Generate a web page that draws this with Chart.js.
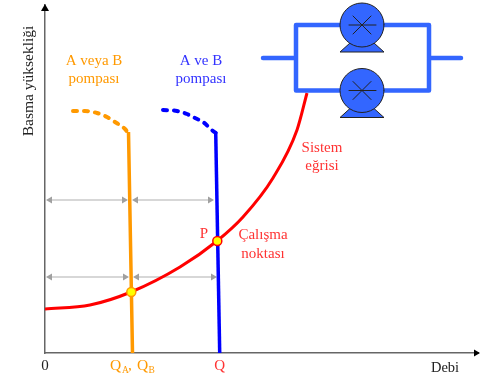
<!DOCTYPE html>
<html>
<head>
<meta charset="utf-8">
<style>
  html, body { margin: 0; padding: 0; background: #fff; }
  #wrap { width: 480px; height: 384px; }
</style>
<script src="https://cdn.jsdelivr.net/npm/chart.js@4/dist/chart.umd.min.js"></script>
</head>
<body>
<div id="wrap"><canvas id="pumpChart"></canvas></div>
<script>
// flow / head, arbitrary units
const systemFlow = [0, 45, 86, 135, 172, 198, 228, 252, 262];
const systemHead = [44, 48, 61, 86, 112, 136, 175, 223, 260];

const singleFlow = [87.5, 83.5];
const singleHead = [0, 221];
const singleDashFlow = [28, 40, 52, 62, 70, 80, 83];
const singleDashHead = [242, 242, 240, 236, 231, 224, 220];

const parallelFlow = [174.7, 170.7];
const parallelHead = [0, 221];
const parallelDashFlow = [118, 132, 142, 150, 158, 168, 171];
const parallelDashHead = [243, 242, 239, 235, 231, 222, 220];

const upperArrowHead = 153;
const lowerArrowHead = 76;
const upperArrowFlow = [[5, 79], [91, 165]];
const lowerArrowFlow = [[5, 80], [92, 168]];

const operatingFlow = [86.3, 172.3];
const operatingHead = [61, 112];

const xTicks = [0, 87.5, 174.7];
const xTickLabels = ['0', '', 'Q'];
const xMax = 433;
const yMax = 348;

const ORANGE = '#ff9900';
const BLUE = '#0000ff';
const RED = '#ff0000';
const TXT_RED = '#ff3333';
const GREY = '#b0b0b0';
const AXIS = '#666666';
const PIPE = '#3366ff';
const SERIF = '"Liberation Serif", serif';

function zip(xs, ys) {
  return xs.map((x, i) => ({ x: x, y: ys[i] }));
}

function lineSet(xs, ys, color, width, dash) {
  return {
    data: zip(xs, ys),
    borderColor: color,
    borderWidth: width,
    borderDash: dash || [],
    borderCapStyle: dash ? 'round' : 'butt',
    cubicInterpolationMode: 'monotone',
    pointRadius: 0
  };
}

function arrowSet(xs, head) {
  return {
    data: xs.map(x => ({ x: x, y: head })),
    borderColor: GREY,
    borderWidth: 1.2,
    pointStyle: 'triangle',
    pointRadius: 4,
    pointRotation: [-90, 90],
    pointBackgroundColor: '#a0a0a0',
    pointBorderWidth: 0
  };
}

// first dataset ends up on top
const datasets = [
  {
    data: zip(operatingFlow, operatingHead),
    showLine: false,
    pointRadius: 4.5,
    pointBorderWidth: 1.5,
    pointBackgroundColor: '#ffff00',
    pointBorderColor: [ORANGE, RED]
  },
  lineSet(systemFlow, systemHead, RED, 3),
  lineSet(parallelFlow, parallelHead, BLUE, 3.5),
  lineSet(parallelDashFlow, parallelDashHead, BLUE, 4, [4, 7]),
  lineSet(singleFlow, singleHead, ORANGE, 3.5),
  lineSet(singleDashFlow, singleDashHead, ORANGE, 4, [4, 7]),
  arrowSet(upperArrowFlow[0], upperArrowHead),
  arrowSet(upperArrowFlow[1], upperArrowHead),
  arrowSet(lowerArrowFlow[0], lowerArrowHead),
  arrowSet(lowerArrowFlow[1], lowerArrowHead)
];

// pump sketch, axis arrows and text notes
const notes = {
  id: 'notes',
  afterDraw(chart) {
    const ctx = chart.ctx;
    const a = chart.chartArea;
    const x = chart.scales.x;

    ctx.save();
    ctx.fillStyle = '#000';
    ctx.beginPath();
    ctx.moveTo(a.right + 2, a.bottom);
    ctx.lineTo(a.right - 4, a.bottom - 3.5);
    ctx.lineTo(a.right - 4, a.bottom + 3.5);
    ctx.fill();
    ctx.beginPath();
    ctx.moveTo(a.left, 4);
    ctx.lineTo(a.left - 4, 11);
    ctx.lineTo(a.left + 4, 11);
    ctx.fill();

    ctx.strokeStyle = PIPE;
    ctx.lineWidth = 4.5;
    ctx.lineJoin = 'round';
    ctx.lineCap = 'round';
    ctx.beginPath();
    ctx.moveTo(263, 58); ctx.lineTo(296, 58);
    ctx.moveTo(429, 58); ctx.lineTo(461, 58);
    ctx.rect(296, 25, 133, 65.5);
    ctx.stroke();
    drawPump(ctx, 362, 25);
    drawPump(ctx, 362, 90.5);

    ctx.textAlign = 'center';
    ctx.textBaseline = 'alphabetic';
    label(ctx, 'A veya B', 94, 65, 15, ORANGE);
    label(ctx, 'pompası', 94, 83, 15, ORANGE);
    label(ctx, 'A ve B', 201, 65, 15, '#3333ff');
    label(ctx, 'pompası', 201, 83, 15, '#3333ff');
    label(ctx, 'Sistem', 322, 152, 15, TXT_RED);
    label(ctx, 'eğrisi', 322, 170, 15, TXT_RED);
    label(ctx, 'Çalışma', 263, 239, 15, TXT_RED);
    label(ctx, 'noktası', 263, 258, 15, TXT_RED);
    label(ctx, 'P', 204, 238, 15, TXT_RED);
    label(ctx, 'Debi', 445, 372, 14.5, '#222');

    // Q_A, Q_B tick with subscripts
    const qx = x.getPixelForValue(xTicks[1]);
    ctx.textAlign = 'left';
    label(ctx, 'Q', qx - 22.5, 370, 15.5, ORANGE);
    label(ctx, 'A', qx - 10.5, 373, 9.5, ORANGE);
    label(ctx, ',', qx - 4.5, 370, 15.5, ORANGE);
    label(ctx, 'Q', qx + 4.5, 370, 15.5, ORANGE);
    label(ctx, 'B', qx + 16, 373, 9.5, ORANGE);

    ctx.translate(33, 81);
    ctx.rotate(-Math.PI / 2);
    ctx.textAlign = 'center';
    label(ctx, 'Basma yüksekliği', 0, 0, 15.5, '#222');
    ctx.restore();
  }
};

function label(ctx, text, x, y, size, color) {
  ctx.font = size + 'px ' + SERIF;
  ctx.fillStyle = color;
  ctx.fillText(text, x, y);
}

function drawPump(ctx, cx, cy) {
  ctx.fillStyle = PIPE;
  ctx.strokeStyle = '#222';
  ctx.lineWidth = 1;
  ctx.beginPath();
  ctx.moveTo(cx - 12, cy + 18);
  ctx.lineTo(cx - 22, cy + 27);
  ctx.lineTo(cx + 22, cy + 27);
  ctx.lineTo(cx + 12, cy + 18);
  ctx.closePath();
  ctx.fill();
  ctx.stroke();
  ctx.beginPath();
  ctx.arc(cx, cy, 22, 0, Math.PI * 2);
  ctx.fill();
  ctx.stroke();
  ctx.beginPath();
  ctx.moveTo(cx - 13, cy); ctx.lineTo(cx + 14, cy);
  ctx.moveTo(cx - 9, cy - 9); ctx.lineTo(cx + 9, cy + 9);
  ctx.moveTo(cx - 9, cy + 9); ctx.lineTo(cx + 9, cy - 9);
  ctx.stroke();
}

new Chart(document.getElementById('pumpChart'), {
  type: 'line',
  data: { datasets: datasets },
  plugins: [notes],
  options: {
    responsive: true,
    maintainAspectRatio: false,
    animation: false,
    layout: { autoPadding: false, padding: { left: 0, right: 2, top: 5, bottom: 0 } },
    plugins: { legend: { display: false }, tooltip: { enabled: false } },
    scales: {
      x: {
        type: 'linear',
        min: 0,
        max: xMax,
        afterBuildTicks(axis) { axis.ticks = xTicks.map(v => ({ value: v })); },
        afterFit(axis) {
          axis.height = 31;
          axis.paddingLeft = 0;
          axis.paddingRight = 0;
        },
        border: { color: AXIS, width: 1.5 },
        grid: { display: false },
        ticks: {
          autoSkip: false,
          maxRotation: 0,
          padding: -4,
          font: { family: SERIF, size: 15 },
          color: c => (c.index === 2 ? TXT_RED : '#222'),
          callback: (v, i) => xTickLabels[i]
        }
      },
      y: {
        type: 'linear',
        min: 0,
        max: yMax,
        afterFit(axis) { axis.width = 45; },
        border: { color: AXIS, width: 1.5 },
        grid: { display: false },
        ticks: { display: false }
      }
    }
  }
});
</script>
</body>
</html>
